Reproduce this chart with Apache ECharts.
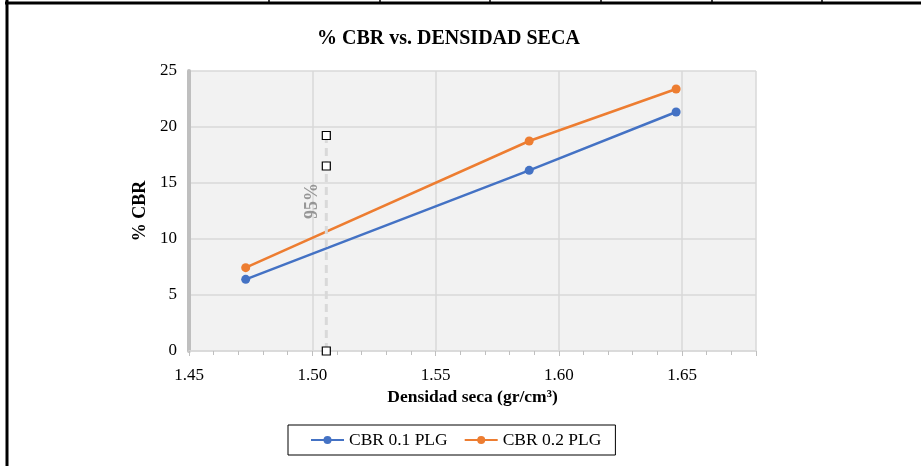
<!DOCTYPE html>
<html>
<head>
<meta charset="utf-8">
<script src="https://cdn.jsdelivr.net/npm/echarts@6/dist/echarts.min.js"></script>
<style>
  html,body{margin:0;padding:0;background:#fff;}
  #chart{width:921px;height:466px;}
</style>
</head>
<body>
<div id="chart"></div>
<script>
// densidad seca (gr/cm3) for each test
const densidad = [1.473, 1.588, 1.6476];
const cbr01 = [6.4, 16.13, 21.34];
const cbr02 = [7.44, 18.75, 23.39];
// 95% of max dry density marker
const densidad95 = 1.5057;
const marcas95 = [0, 16.52, 19.24];
// where the "95%" text sits (data units)
const etiqueta95 = [1.50, 13.4];
const seriesNames = ["CBR 0.1 PLG", "CBR 0.2 PLG"];

const serif = "'Liberation Serif','Times New Roman',serif";

const chart = echarts.init(document.getElementById("chart"));

function pairs(xs, ys){
  return xs.map((x,i)=>[x, ys[i]]);
}

chart.setOption({
  backgroundColor:"#fff",
  animation:false,
  color:["#4472c4","#ed7d31"],
  title:{
    text:"% CBR vs. DENSIDAD SECA",
    left:312,
    top:24,
    textStyle:{fontFamily:serif,fontWeight:"bold",fontSize:20,color:"#000"}
  },
  grid:{
    left:189, right:165, top:71, bottom:115,
    show:true, backgroundColor:"#f2f2f2", borderWidth:0
  },
  xAxis:{
    type:"value",
    min:1.45, max:1.68, interval:0.05,
    name:"Densidad seca (gr/cm³)",
    nameLocation:"middle",
    nameGap:37,
    nameTextStyle:{fontFamily:serif,fontWeight:"bold",fontSize:17.5,color:"#000"},
    axisLine:{show:true,onZero:false,lineStyle:{color:"#d9d9d9",width:1.5}},
    axisTick:{show:true,length:5,lineStyle:{color:"#bfbfbf"}},
    minorTick:{show:true,splitNumber:5,length:4,lineStyle:{color:"#bfbfbf"}},
    axisLabel:{
      fontFamily:serif,fontSize:17,color:"#000",margin:16,
      showMaxLabel:false,
      formatter:v=>v.toFixed(2)
    },
    splitLine:{show:true,lineStyle:{color:"#d9d9d9",width:1.5}}
  },
  yAxis:{
    type:"value",
    min:0, max:25, interval:5,
    name:"% CBR",
    nameLocation:"middle",
    nameGap:35,
    nameTextStyle:{fontFamily:serif,fontWeight:"bold",fontSize:18,color:"#000"},
    axisLine:{show:true,lineStyle:{color:"#bfbfbf",width:4}},
    axisTick:{show:false},
    axisLabel:{fontFamily:serif,fontSize:17,color:"#000",margin:12},
    splitLine:{show:true,lineStyle:{color:"#d9d9d9",width:1.5}}
  },
  legend:{
    data:seriesNames,
    left:288,
    top:425,
    itemGap:16,
    itemWidth:33,
    itemHeight:10,
    padding:[6,14,6,22],
    borderColor:"#000",
    borderWidth:1,
    backgroundColor:"#fff",
    textStyle:{fontFamily:serif,fontSize:17.5,color:"#000"}
  },
  series:[
    {
      name:seriesNames[0],
      type:"line",
      data:pairs(densidad,cbr01),
      symbol:"circle",
      symbolSize:9,
      lineStyle:{width:2.5},
      z:3
    },
    {
      name:seriesNames[1],
      type:"line",
      data:pairs(densidad,cbr02),
      symbol:"circle",
      symbolSize:9,
      lineStyle:{width:2.5},
      z:3
    },
    {
      name:"95%",
      type:"line",
      data:marcas95.map(v=>[densidad95,v]),
      symbol:"rect",
      symbolSize:8,
      itemStyle:{color:"#fff",borderColor:"#000",borderWidth:1.2},
      lineStyle:{color:"#d9d9d9",width:3,type:[8,5]},
      z:4
    },
    {
      name:"95% label",
      type:"scatter",
      data:[etiqueta95],
      symbolSize:0,
      silent:true,
      label:{
        show:true,
        formatter:"95%",
        rotate:90,
        position:"inside",
        fontFamily:serif,
        fontWeight:"bold",
        fontSize:18,
        color:"#808080"
      },
      z:5
    }
  ],
  graphic:[
    {type:"line",shape:{x1:5,y1:3,x2:921,y2:3},style:{stroke:"#000",lineWidth:3}},
    {type:"line",shape:{x1:7,y1:0,x2:7,y2:466},style:{stroke:"#000",lineWidth:3}},
    ...[269,380,490,601,712,822].map(x=>({
      type:"line",shape:{x1:x,y1:0,x2:x,y2:4},style:{stroke:"#000",lineWidth:1.5}
    }))
  ]
});
</script>
</body>
</html>
